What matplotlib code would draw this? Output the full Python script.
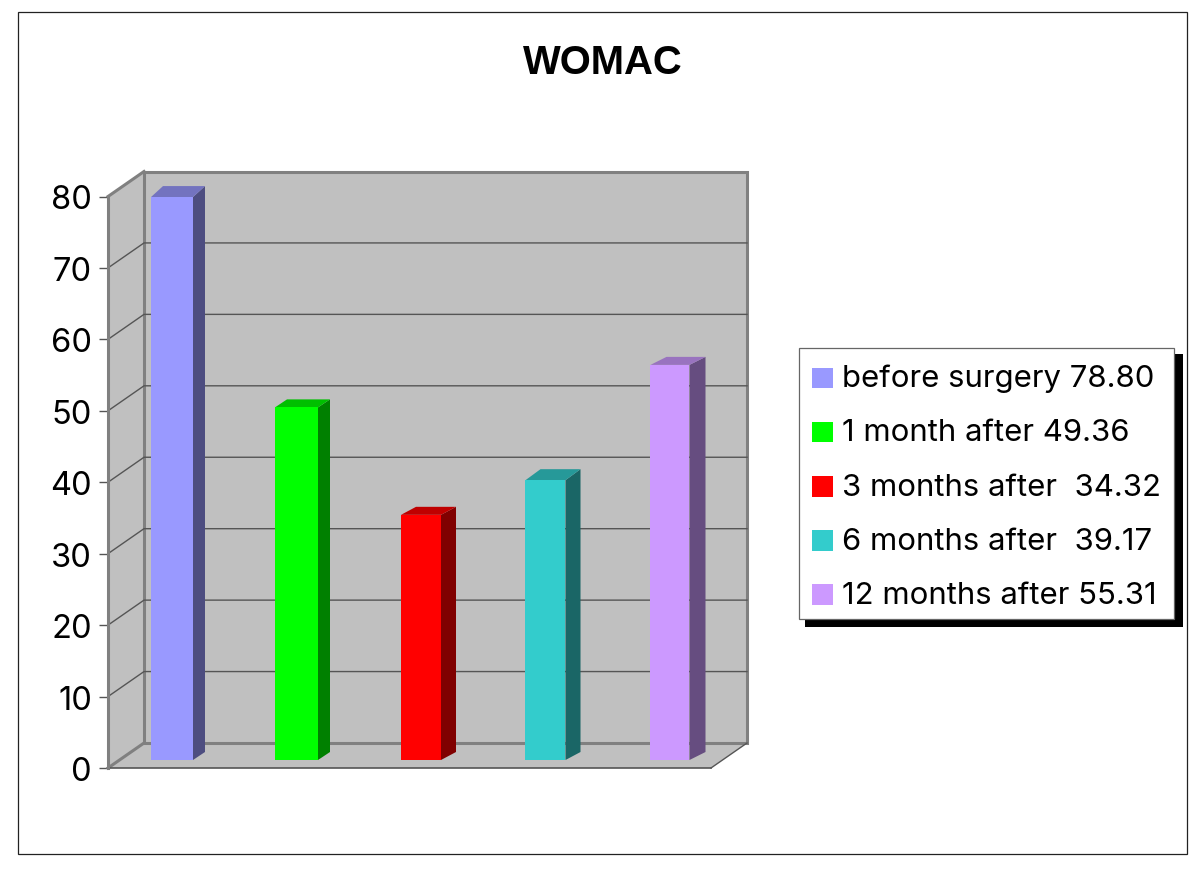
import numpy as np
import matplotlib
matplotlib.use("Agg")
import matplotlib.pyplot as plt
from matplotlib.patches import Patch, Polygon, Rectangle
from matplotlib.transforms import Affine2D, IdentityTransform

title = "WOMAC"
labels = ["before surgery 78.80", "1 month after 49.36", "3 months after  34.32",
          "6 months after  39.17", "12 months after 55.31"]
values = [78.80, 49.36, 34.32, 39.17, 55.31]
y_ticks = [0, 10, 20, 30, 40, 50, 60, 70, 80]
front_colors = ["#9999FF", "#00FF00", "#FF0000", "#33CCCC", "#CC99FF"]
side_colors = ["#4D4D80", "#008000", "#800000", "#1A6666", "#664D80"]
top_colors = ["#7373BF", "#00BF00", "#BF0000", "#269999", "#9973BF"]

W, H = 1200, 870
YSHIFT = 1             # vertical nudge of the plot, px
DEPTH = (36, 25)       # wall depth, px
BAR_OFF = 8            # bars sit this far above the front floor edge, px
BAR_WIDTH_PX = [42, 43, 40, 40, 39]
BAR_DEPTH_X = [12, 12, 15, 15, 16]
BAR_DEPTH_TOP = [11, 8, 8, 11, 8]
BAR_DEPTH_BOTTOM = 8
WALL, EDGE, GRID = "#C0C0C0", "#808080", "#555555"
FONT = ["Inter", "Liberation Sans", "DejaVu Sans"]

fig = plt.figure(figsize=(W / 100, H / 100), dpi=100, facecolor="white")
fig.add_artist(Rectangle((18 / W, 1 - 855 / H), (1187 - 18) / W, (855 - 13) / H,
                         transform=fig.transFigure, fill=False, ec="#222222", lw=0.9))
ax = fig.add_axes([108 / W, 1 - (768 + YSHIFT) / H, 603 / W, 571.5 / H])
ax.set_ylim(0, 80)
ax.set_xlim(-64 / 124.5, 539 / 124.5)
ax.patch.set_visible(False)
for s in ["top", "right", "bottom"]:
    ax.spines[s].set_visible(False)
ax.spines["left"].set_color(EDGE)
ax.spines["left"].set_linewidth(2.2)
ax.set_xticks([])
ax.set_yticks(y_ticks)
ax.tick_params(axis="y", length=6.5, width=1, color=GRID, pad=5, labelsize=23.5)
for t in ax.get_yticklabels():
    t.set_family(FONT)

fig.canvas.draw()
x0, x1 = ax.get_xlim()
ident = IdentityTransform()


def pt(x, v, dx=0, dy=0):
    px, py = ax.transData.transform((x, v))
    return (px + dx, py + dy)


def face(points, color, z, ec="none", lw=0):
    ax.add_patch(Polygon(points, closed=True, transform=ident, fc=color, ec=ec, lw=lw,
                         clip_on=False, zorder=z, joinstyle="miter"))


dx, dy = DEPTH
# walls and floor
face([pt(x0, 0), pt(x0, 80), pt(x0, 80, dx, dy), pt(x0, 0, dx, dy)], WALL, 1)
face([pt(x0, 0), pt(x1, 0), pt(x1, 0, dx, dy), pt(x0, 0, dx, dy)], WALL, 1)
face([pt(x0, 0, dx, dy), pt(x1, 0, dx, dy), pt(x1, 80, dx, dy), pt(x0, 80, dx, dy)], WALL, 1.1,
     ec=EDGE, lw=2.2)
for v in y_ticks[1:-1]:
    a, b, c = pt(x0, v), pt(x0, v, dx, dy), pt(x1, v, dx, dy)
    ax.plot([a[0], b[0], c[0]], [a[1], b[1], c[1]], transform=ident, color=GRID, lw=1,
            clip_on=False, zorder=1.5, solid_joinstyle="miter")
for pts, col, lw in [((pt(x0, 80), pt(x0, 80, dx, dy)), EDGE, 2.2),
                     ((pt(x0, 0), pt(x0, 0, dx, dy)), EDGE, 2.2),
                     ((pt(x0, 0), pt(x1, 0)), GRID, 1.2),
                     ((pt(x1, 0), pt(x1, 0, dx, dy)), GRID, 1)]:
    ax.plot([pts[0][0], pts[1][0]], [pts[0][1], pts[1][1]], transform=ident, color=col, lw=lw,
            clip_on=False, zorder=1.6)

# bars
positions = np.arange(len(values))
bar_w = np.array(BAR_WIDTH_PX) / 124.5
lift = Affine2D().translate(0, BAR_OFF)
ax.bar(positions, values, width=bar_w, color=front_colors,
       transform=ax.transData + lift, zorder=3, clip_on=False)
o, bb = BAR_OFF, BAR_DEPTH_BOTTOM
for x, v, w, bx, bt, sc, tc in zip(positions, values, bar_w, BAR_DEPTH_X, BAR_DEPTH_TOP,
                                   side_colors, top_colors):
    l, r = x - w / 2, x + w / 2
    face([pt(r, 0, 0, o), pt(r, 0, bx, o + bb), pt(r, v, bx, o + bt), pt(r, v, 0, o)], sc, 2.9)
    face([pt(l, v, 0, o), pt(r, v, 0, o), pt(r, v, bx, o + bt), pt(l, v, bx, o + bt)], tc, 2.9)

fig.text(603 / W, 1 - 63 / H, title, ha="center", va="center", fontsize=28.8,
         fontweight="bold", family="Liberation Sans")

# legend with its drop shadow
fig.add_artist(Rectangle((805 / W, 1 - 628 / H), 378 / W, 273 / H, transform=fig.transFigure,
                         fc="black", ec="none", zorder=4))
handles = [Patch(fc=c, ec="none") for c in front_colors]
leg = fig.legend(handles, labels, loc="upper left", bbox_to_anchor=(799 / W, 1 - 349 / H),
                 bbox_transform=fig.transFigure, borderaxespad=0,
                 prop={"family": FONT, "size": 22.4},
                 handlelength=0.675, handleheight=0.64, handletextpad=0.29, labelspacing=0.842,
                 borderpad=0.41, fancybox=False, framealpha=1, edgecolor="#666666")
leg.set_zorder(5)
leg.get_frame().set_linewidth(0.9)
# centre the rows inside the frame
for t in leg.get_texts():
    t.set_y(-3)
for p in leg.get_patches():
    p.set_y(p.get_y() - 4)

fig.savefig("out.png", dpi=100, facecolor="white")
